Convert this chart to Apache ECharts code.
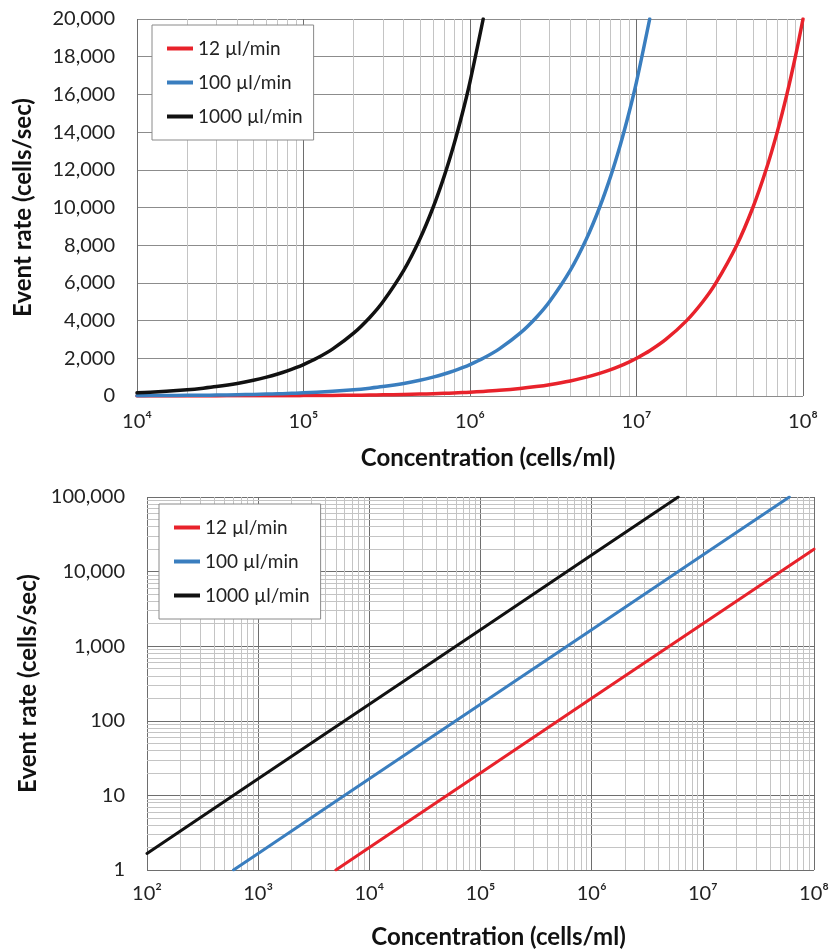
<!DOCTYPE html>
<html><head><meta charset="utf-8">
<script src="https://cdn.jsdelivr.net/npm/echarts@6/dist/echarts.min.js"></script>
<style>html,body{margin:0;padding:0;background:#fff}#c{width:837px;height:950px}</style>
</head><body><div id="c"></div>
<script>
// ---- data ----
const seriesNames = ['12 µl/min', '100 µl/min', '1000 µl/min'];

// Top panel (linear event rate vs. log concentration)
const topConc = [
  10000, 12000, 15000, 20000, 25000, 30000, 40000, 50000, 60000, 70000, 80000, 90000,
  100000, 120000, 150000, 200000, 250000, 300000, 400000, 500000, 600000, 700000, 800000, 900000,
  1000000, 1200000, 1500000, 2000000, 2500000, 3000000, 4000000, 5000000, 6000000, 7000000, 8000000, 9000000,
  10000000, 12000000, 15000000, 20000000, 25000000, 30000000, 40000000, 50000000, 60000000, 70000000, 80000000, 90000000,
  100000000
];
const topRed = [
  2, 2.4, 3, 4, 5, 6, 8, 10, 12, 14, 16, 18,
  20, 24, 30, 40, 50, 60, 80, 100, 120, 140, 160, 180,
  200, 240, 300, 400, 500, 600, 800, 1000, 1200, 1400, 1600, 1800,
  2000, 2400, 3000, 4000, 5000, 6000, 8000, 10000, 12000, 14000, 16000, 18000,
  20000
];
const topBlue = [
  16.7, 20, 25, 33.3, 41.7, 50, 66.7, 83.3, 100, 116.7, 133.3, 150,
  167, 200, 250, 333, 417, 500, 667, 833, 1000, 1167, 1333, 1500,
  1667, 2000, 2500, 3333, 4167, 5000, 6667, 8333, 10000, 11667, 13333, 15000,
  16667, 20000
];
const topBlack = [
  167, 200, 250, 333, 417, 500, 667, 833, 1000, 1167, 1333, 1500,
  1667, 2000, 2500, 3333, 4167, 5000, 6667, 8333, 10000, 11667, 13333, 15000,
  16667, 20000
];

// Bottom panel (log event rate vs. log concentration)
const botRedConc = [5000, 10000, 100000, 1000000, 10000000, 100000000];
const botRed = [1, 2, 20, 200, 2000, 20000];
const botBlueConc = [600, 1000, 10000, 100000, 1000000, 10000000, 60000000];
const botBlue = [1, 1.67, 16.7, 167, 1667, 16667, 100000];
const botBlackConc = [100, 1000, 10000, 100000, 1000000, 6000000];
const botBlack = [1.67, 16.7, 167, 1667, 16667, 100000];

// tick labels
const supDigits = {'0':'⁰','1':'¹','2':'²','3':'³','4':'⁴','5':'⁵','6':'⁶','7':'⁷','8':'⁸','9':'⁹'};
const minorMult = [2, 3, 4, 5, 6, 7, 8, 9];

// ---- helpers ----
const pair = (xs, ys) => ys.map((v, i) => [xs[i], v]);
function minors(d0, d1) {
  const out = [];
  for (let d = d0; d < d1; d++) for (const m of minorMult) out.push(m * Math.pow(10, d));
  return out;
}
const FONT = 'Lato, "Open Sans", "DejaVu Sans", sans-serif';
const colors = ['#e8222b', '#3a7ebf', '#111111'];
const powLabel = v => '10' + String(Math.round(Math.log10(v))).split('').map(c => supDigits[c]).join('');
const commaLabel = v => Math.round(v).toLocaleString('en-US');

function xAxisCfg(grid, min, max, labelMargin, nameGap) {
  return {
    type: 'log', logBase: 10, gridIndex: grid, min: min, max: max,
    axisLine: {show: false}, axisTick: {show: false},
    splitLine: {show: true, lineStyle: {color: '#6e6e6e', width: 1}},
    axisLabel: {formatter: powLabel, fontSize: 20, color: '#222', margin: labelMargin, fontFamily: FONT},
    name: 'Concentration (cells/ml)', nameLocation: 'middle', nameGap: nameGap,
    nameTextStyle: {fontSize: 24, fontWeight: 'bold', color: '#111', fontFamily: FONT, padding: [0, 0, 0, 36]}
  };
}
function yTitle(nameGap) {
  return {
    name: 'Event rate (cells/sec)', nameLocation: 'middle', nameGap: nameGap,
    nameTextStyle: {fontSize: 24, fontWeight: 'bold', color: '#111', fontFamily: FONT}
  };
}
function legendCfg(left, top) {
  return {
    data: seriesNames, orient: 'vertical', left: left, top: top,
    backgroundColor: '#fff', borderColor: '#8a8a8a', borderWidth: 1, borderRadius: 0,
    padding: [14, 11, 14, 15], itemGap: 15, itemWidth: 26, itemHeight: 4, icon: 'rect',
    textStyle: {fontSize: 19, color: '#222', fontFamily: FONT}, selectedMode: false
  };
}
function gridMarks(xi, yi, xs, ys) {
  const data = xs.map(v => ({xAxis: v})).concat(ys.map(v => ({yAxis: v})));
  return {
    type: 'line', xAxisIndex: xi, yAxisIndex: yi, data: [], silent: true, z: 1,
    markLine: {
      z: 1, silent: true, symbol: ['none', 'none'], label: {show: false}, animation: false,
      lineStyle: {color: '#c4c4c4', width: 1, type: 'solid'},
      emphasis: {disabled: true},
      data: data
    }
  };
}
function curve(name, color, data, xi, yi, width, smooth) {
  return {
    name: name, type: 'line', xAxisIndex: xi, yAxisIndex: yi, data: data,
    showSymbol: false, symbol: 'none', smooth: smooth, z: 6,
    lineStyle: {color: color, width: width, cap: 'round', join: 'round'}, itemStyle: {color: color},
    animation: false
  };
}

const option = {
  animation: false,
  backgroundColor: '#fff',
  grid: [
    {left: 137, right: 34, top: 19, height: 377},
    {left: 147, right: 23, top: 497, height: 377}
  ],
  legend: [legendCfg(152, 25), legendCfg(159, 504)],
  xAxis: [xAxisCfg(0, 1e4, 1e8, 16, 50), xAxisCfg(1, 1e2, 1e8, 14, 55)],
  yAxis: [
    Object.assign({
      type: 'value', gridIndex: 0, min: 0, max: 20000, interval: 2000,
      axisLine: {show: false}, axisTick: {show: false},
      splitLine: {show: true, lineStyle: {color: '#8c8c8c', width: 1}},
      axisLabel: {formatter: commaLabel, fontSize: 20, color: '#222', margin: 22, fontFamily: FONT}
    }, yTitle(102)),
    Object.assign({
      type: 'log', logBase: 10, gridIndex: 1, min: 1, max: 100000,
      axisLine: {show: false}, axisTick: {show: false},
      splitLine: {show: true, lineStyle: {color: '#6e6e6e', width: 1}},
      axisLabel: {formatter: commaLabel, fontSize: 20, color: '#222', margin: 22, fontFamily: FONT}
    }, yTitle(107))
  ],
  series: [
    gridMarks(0, 0, minors(4, 8), []),
    gridMarks(1, 1, minors(2, 8), minors(0, 5)),
    curve(seriesNames[0], colors[0], pair(topConc, topRed), 0, 0, 3.5, 0.3),
    curve(seriesNames[1], colors[1], pair(topConc, topBlue), 0, 0, 3.5, 0.3),
    curve(seriesNames[2], colors[2], pair(topConc, topBlack), 0, 0, 3.5, 0.3),
    curve(seriesNames[0], colors[0], pair(botRedConc, botRed), 1, 1, 3, false),
    curve(seriesNames[1], colors[1], pair(botBlueConc, botBlue), 1, 1, 3, false),
    curve(seriesNames[2], colors[2], pair(botBlackConc, botBlack), 1, 1, 3, false)
  ]
};
const chart = echarts.init(document.getElementById('c'), null, {renderer: 'canvas'});
chart.setOption(option);
</script>
</body></html>
